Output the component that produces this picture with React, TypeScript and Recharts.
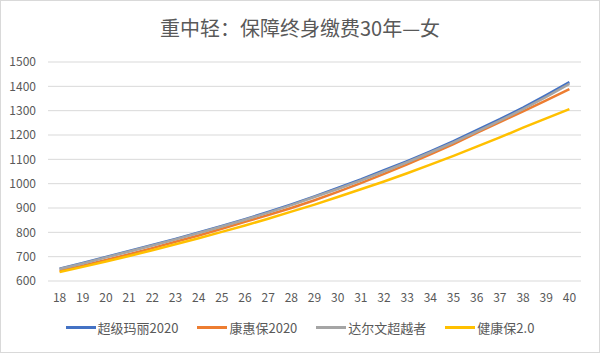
import React from 'react'
import { LineChart, Line, XAxis, YAxis, CartesianGrid } from 'recharts'

const AGES = [18, 19, 20, 21, 22, 23, 24, 25, 26, 27, 28, 29, 30, 31, 32, 33, 34, 35, 36, 37, 38, 39, 40]

// 超级玛丽2020
const CJML = [650, 674, 699, 723, 748, 773, 799, 826, 854, 884, 915, 948, 982, 1017, 1055, 1093, 1133, 1175, 1220, 1265, 1313, 1364, 1417]
// 康惠保2020
const KHB = [641, 663, 686, 710, 735, 761, 787, 815, 843, 871, 900, 932, 966, 1002, 1040, 1079, 1120, 1163, 1209, 1253, 1297, 1342, 1389]
// 达尔文超越者
const DEW = [649, 672, 697, 721, 746, 771, 797, 824, 852, 881, 912, 945, 978, 1013, 1050, 1088, 1128, 1170, 1214, 1259, 1306, 1357, 1410]
// 健康保2.0
const JKB = [637, 658, 680, 703, 726, 751, 776, 802, 828, 856, 885, 914, 945, 977, 1009, 1043, 1078, 1114, 1152, 1190, 1230, 1268, 1306]

const Y_TICKS = [600, 700, 800, 900, 1000, 1100, 1200, 1300, 1400, 1500]

const SERIES = [
  { key: 'cjml', name: '超级玛丽2020', color: '#4472c4' },
  { key: 'khb',  name: '康惠保2020',   color: '#ed7d31' },
  { key: 'dew',  name: '达尔文超越者', color: '#a5a5a5' },
  { key: 'jkb',  name: '健康保2.0',    color: '#ffc000' },
]

const FONT = '"Noto Sans CJK SC", "Noto Sans", sans-serif'

const data = AGES.map((age, i) => ({
  age,
  cjml: CJML[i],
  khb: KHB[i],
  dew: DEW[i],
  jkb: JKB[i],
}))

export default function App() {
  return (
    <div
      style={{
        position: 'absolute', left: 0, top: 0, width: 600, height: 353,
        boxSizing: 'border-box', border: '1px solid #d9d9d9', background: '#fff',
        fontFamily: FONT,
      }}
    >
      <div
        style={{
          position: 'absolute', top: 12, left: 0, width: 598, textAlign: 'center',
          fontSize: 20, color: '#595959',
        }}
      >
        重中轻：保障终身缴费30年—女
      </div>
      <div style={{ position: 'absolute', left: -1, top: -1 }}>
        <LineChart width={600} height={353} data={data} margin={{ top: 62, right: 19, bottom: 42, left: 0 }}>
          <CartesianGrid vertical={false} stroke="#d9d9d9" />
          <XAxis
            dataKey="age"
            axisLine={false}
            tickLine={false}
            padding={{ left: 11.6, right: 11.6 }}
            interval={0}
            tick={{ fontSize: 12, fill: '#595959', fontFamily: FONT }}
            tickMargin={6}
          />
          <YAxis
            width={48}
            domain={[600, 1500]}
            ticks={Y_TICKS}
            axisLine={false}
            tickLine={false}
            tick={{ fontSize: 12, fill: '#595959', fontFamily: FONT }}
            tickMargin={6}
          />
          {SERIES.map(s => (
            <Line
              key={s.key}
              type="linear"
              dataKey={s.key}
              name={s.name}
              stroke={s.color}
              strokeWidth={2.5}
              dot={false}
              isAnimationActive={false}
            />
          ))}
        </LineChart>
      </div>
      <div
        style={{
          position: 'absolute', top: 317, left: 0, width: 598,
          display: 'flex', justifyContent: 'center', gap: 19,
          fontSize: 13, color: '#595959',
        }}
      >
        {SERIES.map(s => (
          <div key={s.key} style={{ display: 'flex', alignItems: 'center' }}>
            <span style={{ display: 'inline-block', width: 30, height: 3, background: s.color, marginRight: 2 }} />
            <span>{s.name}</span>
          </div>
        ))}
      </div>
    </div>
  )
}
